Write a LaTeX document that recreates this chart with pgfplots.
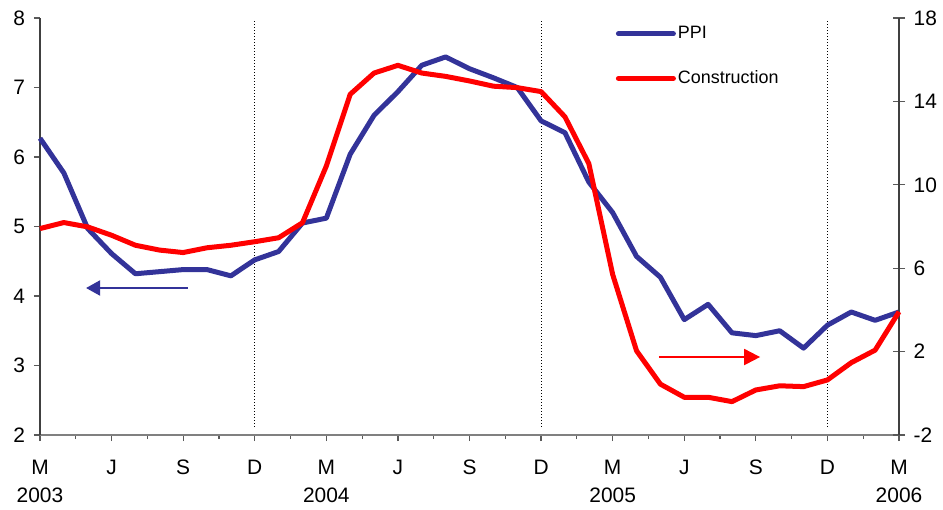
\documentclass[border=0pt]{standalone}
\usepackage{fontspec}
\setmainfont{Liberation Sans}
\usepackage{pgfplots}
\usepackage{pgfplotstable}
\pgfplotsset{compat=1.18}
\usetikzlibrary{arrows.meta}
\definecolor{ppiblue}{RGB}{51,51,153}
\definecolor{conred}{RGB}{255,0,0}

\pgfplotstableread{
x ppi con
0 6.27 7.90
1 5.77 8.19
2 4.97 7.98
3 4.61 7.58
4 4.32 7.10
5 4.35 6.87
6 4.38 6.75
7 4.38 6.98
8 4.29 7.10
9 4.52 7.27
10 4.64 7.46
11 5.05 8.18
12 5.12 10.90
13 6.04 14.34
14 6.60 15.36
15 6.94 15.73
16 7.32 15.36
17 7.44 15.20
18 7.27 14.98
19 7.14 14.73
20 7.00 14.66
21 6.52 14.47
22 6.35 13.26
23 5.64 11.02
24 5.20 5.70
25 4.57 2.04
26 4.27 0.44
27 3.66 -0.19
28 3.88 -0.19
29 3.47 -0.40
30 3.43 0.16
31 3.50 0.36
32 3.25 0.32
33 3.58 0.64
34 3.77 1.47
35 3.65 2.07
36 3.77 3.91
}\datatable

\begin{document}
\begin{tikzpicture}
\pgfplotsset{
  common/.style={
    scale only axis, width=429.5bp, height=208.5bp,
    xmin=0, xmax=36,
    font=\fontsize{10.5}{12}\selectfont,
    /pgf/number format/assume math mode=true,
    every tick/.style={black!65, line width=0.6bp},
    clip=false,
  }
}
\begin{axis}[common, name=ax,
  ymin=2, ymax=8, ytick={2,...,8},
  axis x line*=bottom, axis y line*=left,
  x axis line style={black!50, line width=0.7bp, -},
  y axis line style={black!75, line width=0.6bp, -},
  xtick={0,3,...,36},
  minor xtick={1.5,4.5,...,34.5},
  xticklabels={{M\\2003},J,S,D,{M\\2004},J,S,D,{M\\2005},J,S,D,{M\\2006}},
  xticklabel style={align=center, font=\fontsize{10.5}{14}\selectfont, anchor=north, yshift=-6bp},
  tick align=outside,
  major tick length=3bp, minor tick length=2bp,
  yticklabel style={anchor=east, xshift=-1bp},
]
\draw[black, line width=0.5bp, dash pattern=on 0.5bp off 1bp] (axis cs:9,2.12) -- (axis cs:9,7.95);
\draw[black, line width=0.5bp, dash pattern=on 0.5bp off 1bp] (axis cs:21,2.12) -- (axis cs:21,7.95);
\draw[black, line width=0.5bp, dash pattern=on 0.5bp off 1bp] (axis cs:33,2.12) -- (axis cs:33,7.95);
\addplot[ppiblue, line width=2.5bp, line join=round] table[x=x, y=ppi] {\datatable};
\draw[ppiblue, line width=1bp, -{Triangle[length=7bp,width=7.5bp]}] (axis cs:6.2,4.115) -- (axis cs:1.93,4.115);
\end{axis}
\begin{axis}[common,
  ymin=-2, ymax=18, ytick={-2,2,...,18},
  axis y line*=right, axis x line=none,
  y axis line style={black!75, line width=0.6bp, -},
  tick align=center, major tick length=6bp,
  yticklabel style={anchor=west, xshift=0.8bp},
  legend image code/.code={\draw[#1, line cap=round] (0bp,0bp) -- (27.5bp,0bp);},
  legend style={draw=none, fill=none, at={(0.670,0.991)}, anchor=north west,
    inner sep=0pt, row sep=10.5bp, font=\fontsize{9}{11}\selectfont,
    nodes={inner xsep=1bp}},
  legend cell align=left,
]
\addlegendimage{ppiblue, line width=2.5bp}
\addlegendentry{PPI}
\addplot[conred, line width=2.5bp, line join=round] table[x=x, y=con] {\datatable};
\addlegendentry{Construction}
\draw[conred, line width=1bp, -{Triangle[length=8bp,width=8bp]}] (axis cs:25.94,1.74) -- (axis cs:30.18,1.74);
\end{axis}
\pgfresetboundingbox
\path ([shift={(-20bp,-37.5bp)}]ax.south west) rectangle ([shift={(22bp,9bp)}]ax.north east);
\end{tikzpicture}
\end{document}
